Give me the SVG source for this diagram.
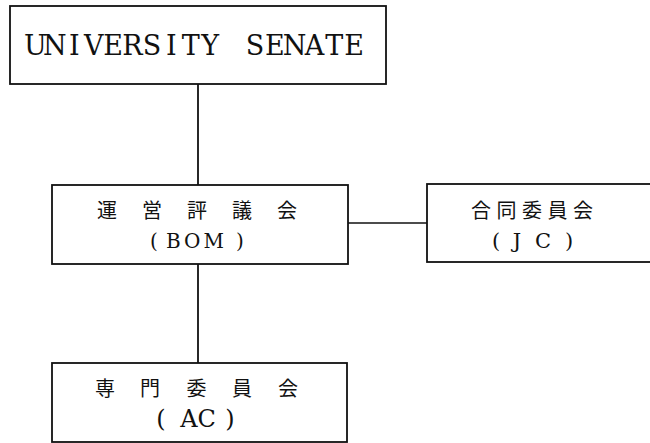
<svg xmlns="http://www.w3.org/2000/svg" width="650" height="443" viewBox="0 0 650 443">
<style>
.box{fill:#fff;stroke:#111;stroke-width:1.8}
.conn{stroke:#111;stroke-width:1.8;fill:none}
.lat{font-family:'DejaVu Serif','Liberation Serif',serif;fill:#111;text-anchor:middle}
.cjk{font-family:'Noto Sans CJK JP','Noto Sans CJK SC',sans-serif;fill:#111;text-anchor:middle;font-size:20px}
</style>
<rect x="0" y="0" width="650" height="443" fill="#fff"/>
<g id="connectors">
<line class="conn" x1="198" y1="84" x2="198" y2="185"/>
<line class="conn" x1="198" y1="264" x2="198" y2="363"/>
<line class="conn" x1="348" y1="223" x2="427" y2="223" style="stroke-width:1.3"/>
</g>
<g id="senate">
<rect class="box" x="10" y="6" width="376" height="78"/>
<text class="lat" font-size="27" y="55" x="35.5 54.9 74.3 93.7 113.1 132.5 151.9 171.3 190.7 210.1 255 274.8 294.6 314.4 334.2 354">UNIVERSITYSENATE</text>
</g>
<g id="bom">
<rect class="box" x="52" y="185" width="296" height="79"/>
<text class="cjk" y="218" x="107 152 197 242 287">運営評議会</text>
<text class="lat" font-size="20" y="248"><tspan x="154">(</tspan><tspan x="196.5" letter-spacing="3">BOM</tspan><tspan x="240">)</tspan></text>
</g>
<g id="jc">
<rect class="box" x="427" y="184" width="240" height="78"/>
<text class="cjk" y="218" x="481 506.5 532 557.5 583">合同委員会</text>
<text class="lat" font-size="21" y="248"><tspan x="496">(</tspan><tspan x="517">J</tspan><tspan x="543">C</tspan><tspan x="569">)</tspan></text>
</g>
<g id="ac">
<rect class="box" x="52" y="363" width="295" height="79"/>
<text class="cjk" y="396" x="105 150 196.5 242 288">専門委員会</text>
<text class="lat" font-size="24" y="427"><tspan x="161">(</tspan><tspan x="198">AC</tspan><tspan x="230">)</tspan></text>
</g>
</svg>
